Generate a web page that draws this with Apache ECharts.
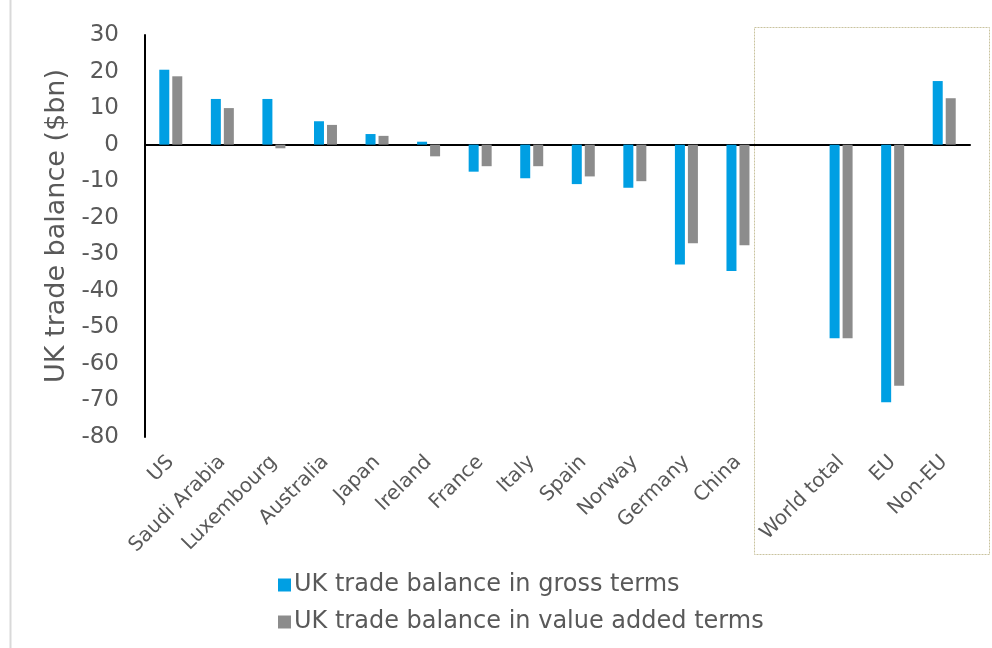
<!DOCTYPE html>
<html><head><meta charset="utf-8">
<script src="https://cdn.jsdelivr.net/npm/echarts@6/dist/echarts.min.js"></script>
<style>html,body{margin:0;padding:0;background:#fff}#c{width:992px;height:648px}</style>
</head><body><div id="c"></div>
<script>
const categories = ['US','Saudi Arabia','Luxembourg','Australia','Japan','Ireland','France','Italy','Spain','Norway','Germany','China','','World total','EU','Non-EU'];
const grossValues = [20.5, 12.5, 12.5, 6.4, 2.9, 0.8, -7.4, -9.2, -10.8, -11.8, -32.8, -34.6, null, -53.0, -70.5, 17.4];
const valueAddedValues = [18.7, 10.0, -1.0, 5.4, 2.4, -3.2, -5.9, -5.9, -8.7, -10.0, -27.0, -27.5, null, -53.0, -66.0, 12.7];
const yTicks = {min: -80, max: 30, interval: 10};
const seriesNames = ['UK trade balance in gross terms', 'UK trade balance in value added terms'];

const chart = echarts.init(document.getElementById('c'), null, {renderer: 'canvas'});
const txt = '#595959';
const font = '"DejaVu Sans", sans-serif';
chart.setOption({
  animation: false,
  textStyle: {fontFamily: font},
  grid: {left: 145, right: 22, top: 35, bottom: 211, containLabel: false},
  legend: {
    orient: 'vertical', left: 273, top: 568, itemGap: 13,
    itemWidth: 13, itemHeight: 13, icon: 'rect',
    textStyle: {fontSize: 24, color: txt, fontFamily: font, padding: [0,0,0,-2]},
    data: seriesNames
  },
  xAxis: [{
    type: 'category', data: categories,
    axisLine: {onZero: true, lineStyle: {color: '#000', width: 2}},
    axisTick: {show: false}, axisLabel: {show: false}, splitLine: {show: false}
  }, {
    type: 'category', data: categories, position: 'bottom',
    axisLine: {show: false, onZero: false}, axisTick: {show: false},
    axisLabel: {rotate: 45, interval: 0, margin: 22, fontSize: 20, color: txt, fontFamily: font}
  }],
  yAxis: {
    type: 'value', min: yTicks.min, max: yTicks.max, interval: yTicks.interval,
    name: 'UK trade balance ($bn)', nameLocation: 'middle', nameGap: 72,
    nameTextStyle: {fontSize: 27, color: txt, fontFamily: font, padding: [0, 0, 0, 20]},
    axisLine: {show: true, lineStyle: {color: '#000', width: 2}},
    axisTick: {show: false}, splitLine: {show: false},
    axisLabel: {fontSize: 23, color: txt, margin: 26, fontFamily: font}
  },
  series: [{
    name: seriesNames[0], type: 'bar', data: grossValues, barWidth: 10, barGap: '30%',
    itemStyle: {color: '#009FE3'}
  }, {
    name: seriesNames[1], type: 'bar', data: valueAddedValues, barWidth: 10,
    itemStyle: {color: '#8C8C8C'}
  }],
  graphic: [{
    type: 'rect', shape: {x: 754.5, y: 27.5, width: 235, height: 527},
    style: {fill: 'none', stroke: '#C9C39E', lineWidth: 1, lineDash: [2, 1]}, z: 0
  }, {
    type: 'line', shape: {x1: 10.5, y1: 0, x2: 10.5, y2: 648},
    style: {stroke: '#D9D9D9', lineWidth: 2}
  }]
});
</script></body></html>
